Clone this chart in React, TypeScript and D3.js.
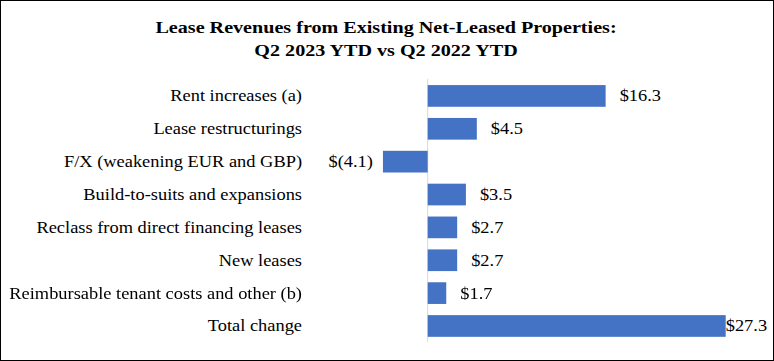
import React, { useEffect, useRef } from 'react';
import * as d3 from 'd3';

const categories = [
  'Rent increases (a)',
  'Lease restructurings',
  'F/X (weakening EUR and GBP)',
  'Build-to-suits and expansions',
  'Reclass from direct financing leases',
  'New leases',
  'Reimbursable tenant costs and other (b)',
  'Total change',
];
const values = [16.3, 4.5, -4.1, 3.5, 2.7, 2.7, 1.7, 27.3];
const titleLines = [
  'Lease Revenues from Existing Net-Leased Properties:',
  'Q2 2023 YTD vs Q2 2022 YTD',
];

const W = 774;
const H = 361;
const FONT = '"Liberation Serif", "Times New Roman", serif';
// the source image is stretched sideways a little, so text is too
const SX = 1.15;

const fmt = (v: number) => (v < 0 ? `$(${Math.abs(v).toFixed(1)})` : `$${v.toFixed(1)}`);

const App: React.FC = () => {
  const svgRef = useRef<SVGSVGElement>(null);

  useEffect(() => {
    if (!svgRef.current) return;
    const svg = d3.select(svgRef.current);
    svg.selectAll('*').remove();

    svg.append('rect')
      .attr('x', 0.5).attr('y', 0.5)
      .attr('width', W - 1).attr('height', H - 1)
      .attr('fill', '#fff')
      .attr('stroke', '#000')
      .attr('stroke-width', 1);

    svg.append('g')
      .selectAll('text')
      .data(titleLines)
      .join('text')
      .attr('transform', (_, i) => `translate(386,${33 + i * 22.5}) scale(${SX},1)`)
      .attr('text-anchor', 'middle')
      .attr('font-family', FONT)
      .attr('font-weight', 'bold')
      .attr('font-size', '17.5px')
      .attr('fill', '#000')
      .text((d) => d);

    const x = d3.scaleLinear().domain([0, 27.3]).range([427.7, 725.7]);
    const y = d3.scaleBand<string>().domain(categories).range([79.5, 342.4]).paddingInner(0.34).paddingOuter(0.17);

    svg.append('line')
      .attr('x1', x(0)).attr('x2', x(0))
      .attr('y1', 79).attr('y2', 342)
      .attr('stroke', '#d9d9d9')
      .attr('stroke-width', 1);

    const rows = svg.append('g')
      .selectAll('g')
      .data(categories.map((c, i) => ({ c, v: values[i] })))
      .join('g');

    rows.append('rect')
      .attr('x', (d) => x(Math.min(0, d.v)))
      .attr('y', (d) => y(d.c)!)
      .attr('width', (d) => Math.abs(x(d.v) - x(0)))
      .attr('height', y.bandwidth())
      .attr('fill', '#4472C4');

    rows.append('text')
      .attr('transform', (d) => `translate(302,${y(d.c)! + y.bandwidth() / 2 + 5.5}) scale(${SX},1)`)
      .attr('text-anchor', 'end')
      .attr('font-family', FONT)
      .attr('font-size', '16px')
      .attr('fill', '#000')
      .text((d) => d.c);

    rows.append('text')
      .attr('transform', (d) => {
        const tx = d.v < 0 ? x(d.v) - 10 : Math.min(x(d.v) + 14, x(27.3));
        return `translate(${tx},${y(d.c)! + y.bandwidth() / 2 + 5.5}) scale(${SX},1)`;
      })
      .attr('text-anchor', (d) => (d.v < 0 ? 'end' : 'start'))
      .attr('font-family', FONT)
      .attr('font-size', '16px')
      .attr('fill', '#000')
      .text((d) => fmt(d.v));
  }, []);

  return (
    <div style={{ position: 'fixed', left: 0, top: 0 }}>
      <svg ref={svgRef} width={W} height={H} style={{ display: 'block' }} />
    </div>
  );
};

export default App;
